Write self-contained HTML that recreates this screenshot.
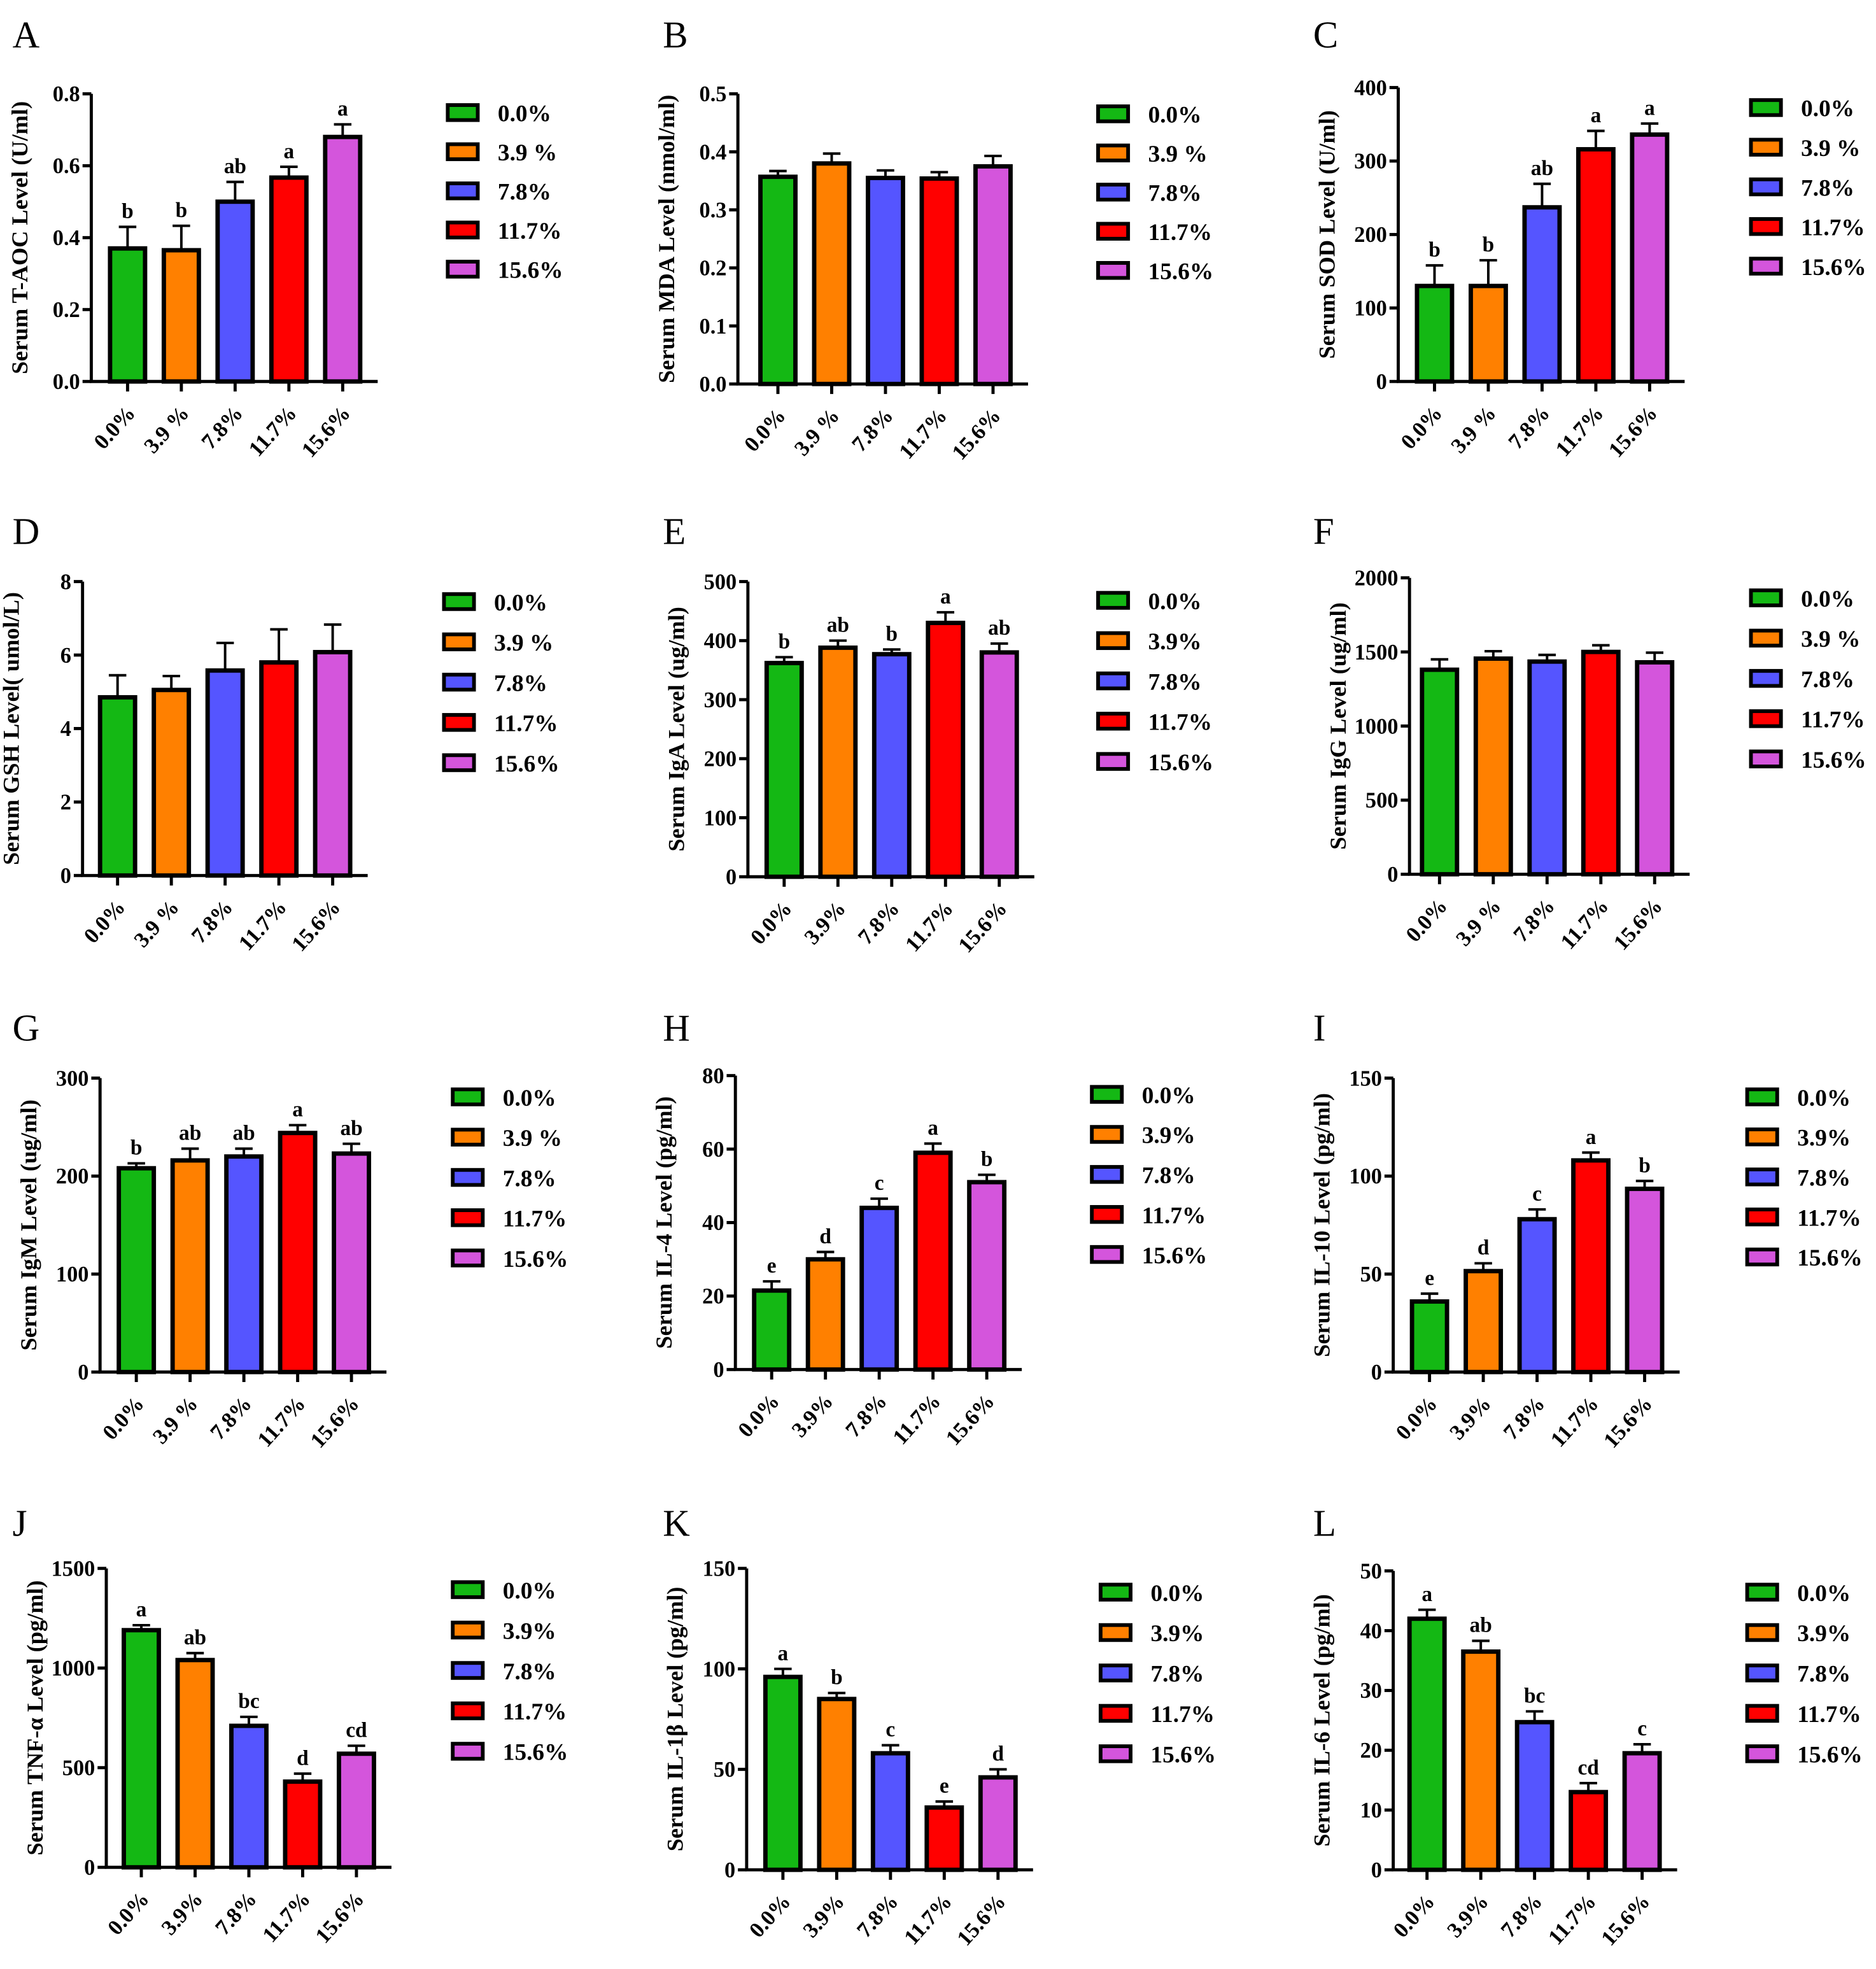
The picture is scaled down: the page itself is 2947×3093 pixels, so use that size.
<!DOCTYPE html>
<html><head><meta charset="utf-8"><style>
html,body{margin:0;padding:0;background:#fff}
svg{display:block}
text{font-family:"Liberation Serif",serif}
</style></head>
<body>
<svg id="fig" width="2947" height="3093" viewBox="0 0 1500 1574.3" xmlns="http://www.w3.org/2000/svg"></svg>
<script>
const groups=["0.0%","3.9 %","7.8%","11.7%","15.6%"];
const groupsB=["0.0%","3.9%","7.8%","11.7%","15.6%"];
const colors=["#14b814","#ff8000","#5555ff","#ff0000","#d455dc"];
const valA=[0.37,0.365,0.50,0.567,0.68], errA=[0.06,0.068,0.055,0.03,0.035], letA=["b","b","ab","a","a"];
const valB=[0.357,0.38,0.355,0.354,0.375], errB=[0.01,0.017,0.013,0.011,0.018], letB=["","","","",""];
const valC=[130,130,237,316,336], errC=[28,35,32,25,15], letC=["b","b","ab","a","a"];
const valD=[4.85,5.05,5.58,5.8,6.08], errD=[0.6,0.38,0.75,0.9,0.75], letD=["","","","",""];
const valE=[362,388,377,430,380], errE=[10,12,8,18,15], letE=["b","ab","b","a","ab"];
const valF=[1380,1455,1435,1500,1430], errF=[70,50,45,45,65], letF=["","","","",""];
const valG=[208,216,220,244,223], errG=[5,12,8,8,10], letG=["b","ab","ab","a","ab"];
const valH=[21.5,30,44,59,51], errH=[2.5,2,2.5,2.5,2], letH=["e","d","c","a","b"];
const valI=[36,51.5,78,108,93.5], errI=[4,4,5,4,4], letI=["e","d","c","a","b"];
const valJ=[1190,1040,710,430,570], errJ=[25,35,45,40,40], letJ=["a","ab","bc","d","cd"];
const valK=[96,85,58,31,46], errK=[4,3,4,3,4], letK=["a","b","c","e","d"];
const valL=[42,36.5,24.7,13,19.5], errL=[1.5,1.8,1.8,1.5,1.5], letL=["a","ab","bc","cd","c"];
const ticksA=[0,0.2,0.4,0.6,0.8], ticksB=[0,0.1,0.2,0.3,0.4,0.5], ticksC=[0,100,200,300,400];
const ticksD=[0,2,4,6,8], ticksE=[0,100,200,300,400,500], ticksF=[0,500,1000,1500,2000];
const ticksG=[0,100,200,300], ticksH=[0,20,40,60,80], ticksI=[0,50,100,150];
const ticksJ=[0,500,1000,1500], ticksK=[0,50,100,150], ticksL=[0,10,20,30,40,50];

const panels=[
 {id:"A",lx:10,ly:38,ax:73,top:75,bot:305,c0:102,lgx:358,lgy:90,sp:31.3,v:valA,e:errA,l:letA,t:ticksA,dec:1,title:"Serum T-AOC Level (U/ml)",xl:groups,lg:groups},
 {id:"B",lx:530,ly:38,ax:590,top:75,bot:307,c0:622,lgx:878,lgy:91,sp:31.3,v:valB,e:errB,l:letB,t:ticksB,dec:1,title:"Serum MDA Level (nmol/ml)",xl:groups,lg:groups},
 {id:"C",lx:1050,ly:38,ax:1118,top:70,bot:305,c0:1147,lgx:1400,lgy:86,sp:31.7,v:valC,e:errC,l:letC,t:ticksC,dec:0,title:"Serum SOD Level (U/ml)",xl:groups,lg:groups},
 {id:"D",lx:10,ly:435,ax:66,top:465,bot:700,c0:94,lgx:355,lgy:481,sp:32.2,v:valD,e:errD,l:letD,t:ticksD,dec:0,title:"Serum GSH Level( umol/L)",xl:groups,lg:groups},
 {id:"E",lx:530,ly:435,ax:598,top:465,bot:701,c0:627,lgx:878,lgy:480,sp:32.2,v:valE,e:errE,l:letE,t:ticksE,dec:0,title:"Serum IgA Level (ug/ml)",xl:groupsB,lg:groupsB},
 {id:"F",lx:1050,ly:435,ax:1127,top:462,bot:699,c0:1151,lgx:1400,lgy:478,sp:32.2,v:valF,e:errF,l:letF,t:ticksF,dec:0,title:"Serum IgG Level (ug/ml)",xl:groups,lg:groups},
 {id:"G",lx:10,ly:832,ax:80,top:862,bot:1097,c0:109,lgx:362,lgy:877,sp:32.2,v:valG,e:errG,l:letG,t:ticksG,dec:0,title:"Serum IgM Level (ug/ml)",xl:groups,lg:groups},
 {id:"H",lx:530,ly:832,ax:588,top:860,bot:1095,c0:617,lgx:873,lgy:875,sp:32,v:valH,e:errH,l:letH,t:ticksH,dec:0,title:"Serum IL-4 Level (pg/ml)",xl:groupsB,lg:groupsB},
 {id:"I",lx:1050,ly:832,ax:1114,top:862,bot:1097,c0:1143,lgx:1397,lgy:877,sp:32,v:valI,e:errI,l:letI,t:ticksI,dec:0,title:"Serum IL-10 Level (pg/ml)",xl:groupsB,lg:groupsB},
 {id:"J",lx:10,ly:1228,ax:85,top:1254,bot:1493,c0:113,lgx:362,lgy:1271,sp:32.3,v:valJ,e:errJ,l:letJ,t:ticksJ,dec:0,title:"Serum TNF-α Level (pg/ml)",xl:groupsB,lg:groupsB},
 {id:"K",lx:530,ly:1228,ax:597,top:1254,bot:1495,c0:626,lgx:880,lgy:1273,sp:32.3,v:valK,e:errK,l:letK,t:ticksK,dec:0,title:"Serum IL-1β Level (pg/ml)",xl:groupsB,lg:groupsB},
 {id:"L",lx:1050,ly:1228,ax:1114,top:1256,bot:1495,c0:1141,lgx:1397,lgy:1273,sp:32.3,v:valL,e:errL,l:letL,t:ticksL,dec:0,title:"Serum IL-6 Level (pg/ml)",xl:groupsB,lg:groupsB}
];
const NS="http://www.w3.org/2000/svg";
const svg=document.getElementById("fig");
function mk(tag,attrs,parent,txt){const el=document.createElementNS(NS,tag);for(const k in attrs)el.setAttribute(k,attrs[k]);if(txt!==undefined)el.textContent=txt;parent.appendChild(el);return el;}
panels.forEach(p=>{
  const g=mk("g",{},svg);
  
  
  const tmax=p.t[p.t.length-1];
  const y=v=>p.bot-(v/tmax)*(p.bot-p.top);
  const sp=43, bw=28;
  const x=i=>p.c0+i*sp;
  const pl=mk("text",{x:p.lx,y:p.ly,"font-size":30},g,p.id);
  
  
  p.v.forEach((v,i)=>{
    const cx=x(i), yt=y(v), ye=y(v+p.e[i]);
    const eb=mk("path",{d:`M${cx},${yt} V${ye} M${cx-7},${ye} H${cx+7}`,stroke:"#000","stroke-width":2,fill:"none"},g);
    
    
    const r=mk("rect",{x:cx-bw/2,y:yt,width:bw,height:p.bot-yt,fill:colors[i],stroke:"#000","stroke-width":3.5},g);
    
    
    if(p.l[i]){const lt=mk("text",{x:cx,y:ye-7,"font-size":17,"font-weight":"bold","text-anchor":"middle"},g,p.l[i]);
      
      }
    const xt=mk("line",{x1:cx,y1:p.bot,x2:cx,y2:p.bot+8,stroke:"#000","stroke-width":2.5},g);
    
    
    const xl=mk("text",{x:cx+7,y:p.bot+26,"font-size":17.5,"font-weight":"bold","text-anchor":"end",transform:`rotate(-48 ${cx+7} ${p.bot+26})`},g,p.xl[i]);
    
    
  });
  const xe=x(4)+28;
  const ax=mk("path",{d:`M${p.ax},${p.top} V${p.bot} H${xe}`,stroke:"#000","stroke-width":2.5,fill:"none"},g);
  
  
  p.t.forEach(t=>{
    const yy=y(t);
    const tk=mk("line",{x1:p.ax-7,y1:yy,x2:p.ax,y2:yy,stroke:"#000","stroke-width":2.5},g);
    
    
    const tl=mk("text",{x:p.ax-9,y:yy+6,"font-size":17.5,"font-weight":"bold","text-anchor":"end"},g,p.dec?t.toFixed(1):String(t));
    
    
  });
  const cy=(p.top+p.bot)/2, tx=p.ax-51;
  const yt=mk("text",{x:tx,y:cy,"font-size":18.5,"font-weight":"bold","text-anchor":"middle",transform:`rotate(-90 ${tx} ${cy})`},g,p.title);
  
  
  p.lg.forEach((s,i)=>{
    const ly=p.lgy+i*p.sp;
    const sw=mk("rect",{x:p.lgx,y:ly-6,width:24,height:12,fill:colors[i],stroke:"#000","stroke-width":3},g);
    
    
    const lt=mk("text",{x:p.lgx+40,y:ly+7,"font-size":19,"font-weight":"bold"},g,s);
    
    
  });
});
</script>
</body></html>
